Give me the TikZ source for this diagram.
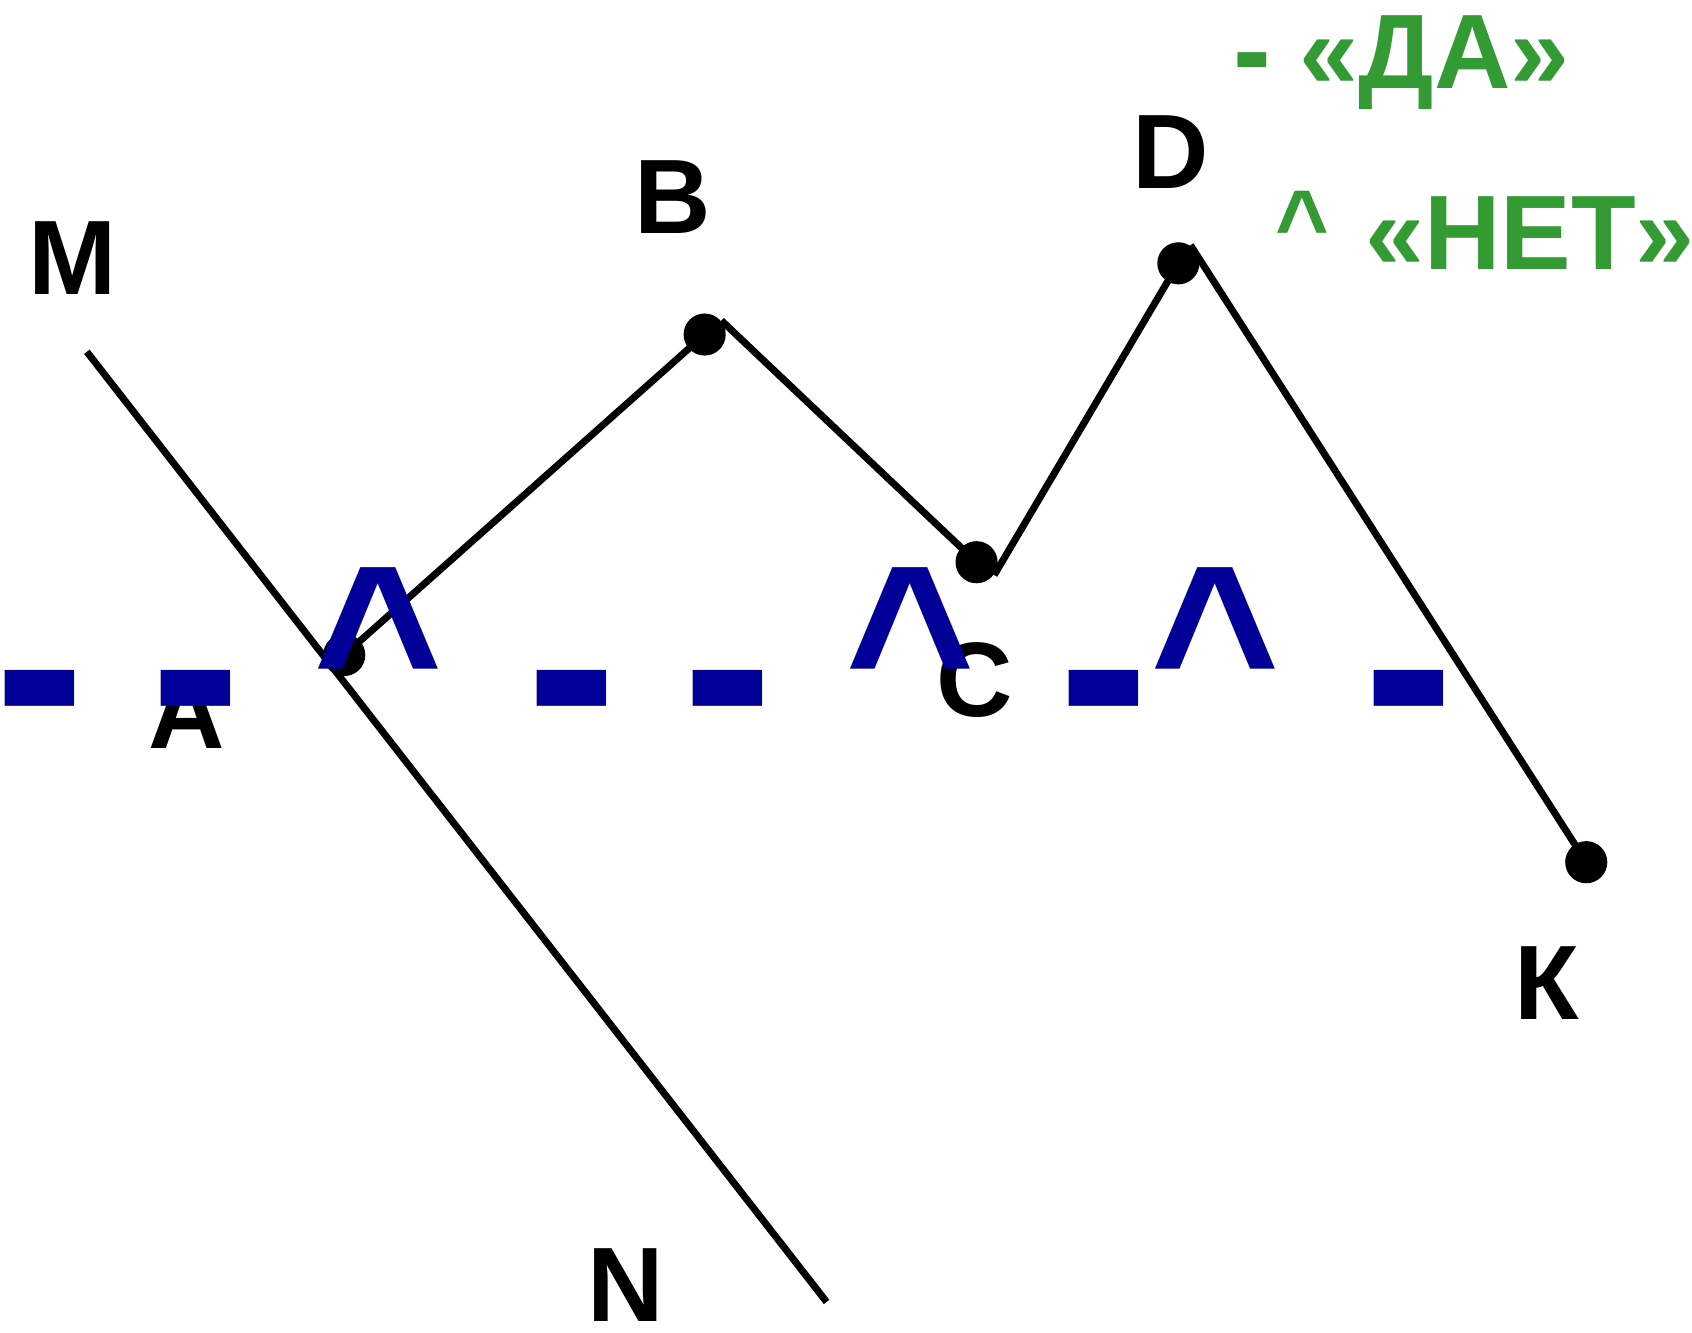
\documentclass[tikz,border=0pt]{standalone}
\usepackage{fontspec}
\setmainfont{Liberation Sans}
\definecolor{markblue}{RGB}{0,0,153}
\definecolor{legendgreen}{RGB}{52,154,52}
\newcommand\dashmark{\makebox[0.333em][c]{\raisebox{-0.036em}{\scalebox{1.07}[1.18]{-}}}}
\newcommand\caretmark{\makebox[0.584em][c]{\hspace{-0.044em}\raisebox{0.116em}{\scalebox{0.87}[0.91]{\textasciicircum}}}}
\begin{document}
\begin{tikzpicture}[x=0.01cm,y=-0.01cm,
  ln/.style={line width=0.065cm,line cap=butt},
  dot/.style={circle,fill=black,inner sep=0pt,minimum size=0.39cm},
  lbl/.style={font=\bfseries\fontsize{27.9}{33}\selectfont,inner sep=0pt,anchor=base},
  legend/.style={font=\bfseries\fontsize{27.9}{33}\selectfont,inner sep=0pt,anchor=base west,text=legendgreen},
  marks/.style={font=\bfseries\fontsize{67.3}{70}\selectfont,inner sep=0pt,anchor=base west,text=markblue}]
\useasboundingbox (0,0) rectangle (1568,1235);
% labels
\node[lbl] (lM) at (67,273) {M};
\node[lbl] (lB) at (623,216) {B};
\node[lbl] (lD) at (1085,175) {D};
\node[lbl] (lA) at (173,694) {A};
\node[lbl] (lC) at (903,664) {C};
\node[lbl] (lK) at (1433,945) {К};
\node[lbl] (lN) at (580,1225) {N};
% line MN
\coordinate (M) at (80.5,326);
\coordinate (N) at (766,1206.5);
\draw[ln] (M) -- (N);
% dots
\node[dot] (A) at (319,607) {};
\node[dot] (B) at (653,310) {};
\node[dot] (C) at (905,521) {};
\node[dot] (D) at (1092,244) {};
\node[dot] (K) at (1470,799) {};
\draw[ln] (A.center) -- (B.center);
\draw[ln] (B.40) -- (C.center);
\draw[ln] (C.-36) -- (D.center);
\draw[ln] (D.56) -- (K.center);
% legend
\node[legend] (leg1) at (1144,82) {\dashmark\ «ДА»};
\node[legend] (leg2) at (1180,250) {\caretmark\ «НЕТ»};
% blue marks
\node[marks] (mk) at (-3,702) {\dashmark\ \dashmark\ \caretmark\ \dashmark\ \dashmark\ \caretmark\ \dashmark\caretmark\ \dashmark};
\end{tikzpicture}
\end{document}
